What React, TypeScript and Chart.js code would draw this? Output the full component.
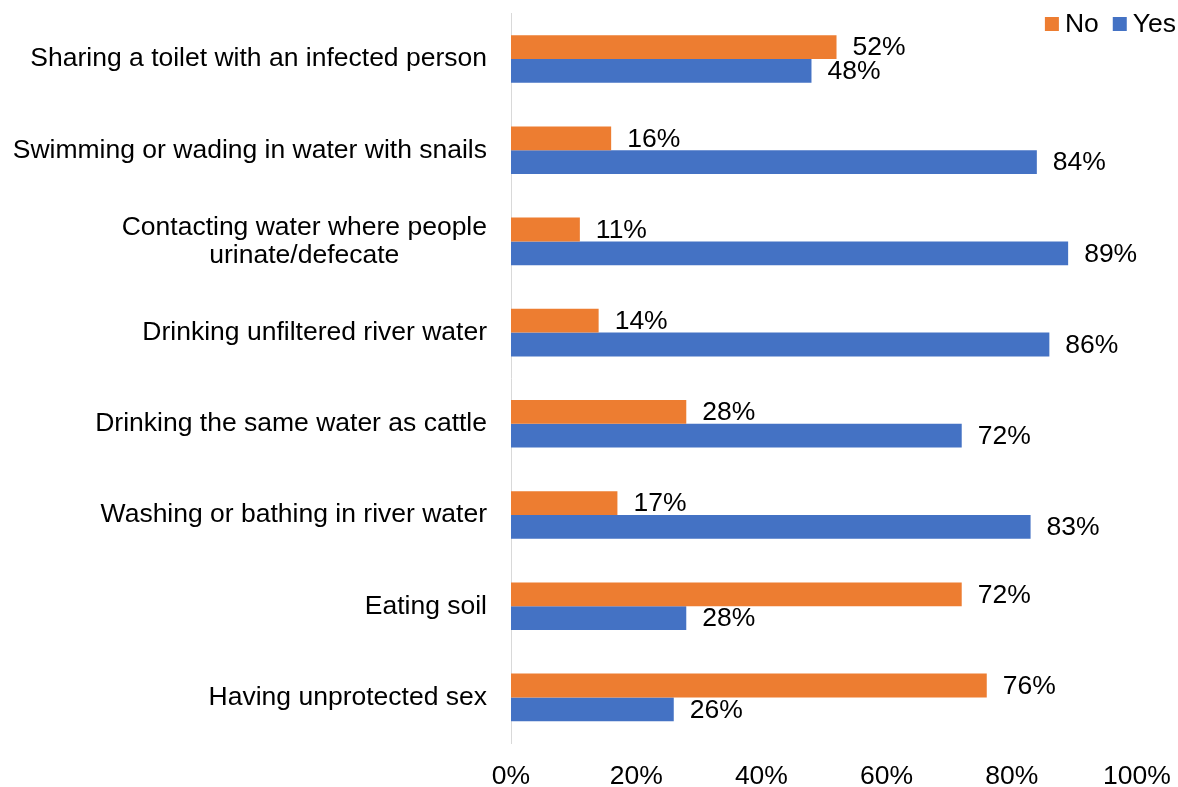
import React, { useEffect, useRef } from "react";
import { Chart, registerables } from "chart.js";

Chart.register(...registerables);

const categories: string[][] = [
  ["Sharing a toilet with an infected person"],
  ["Swimming or wading in water with snails"],
  ["Contacting water where people", "urinate/defecate"],
  ["Drinking unfiltered river water"],
  ["Drinking the same water as cattle"],
  ["Washing or bathing in river water"],
  ["Eating soil"],
  ["Having unprotected sex"],
];
const seriesNames = ["No", "Yes"];
const noValues = [52, 16, 11, 14, 28, 17, 72, 76];
const yesValues = [48, 84, 89, 86, 72, 83, 28, 26];
const xTicks = [0, 20, 40, 60, 80, 100];

const ORANGE = "#ED7D31";
const BLUE = "#4472C4";
const FONT_FAMILY = '"Liberation Sans", Arial, Helvetica, sans-serif';
const FONT_SIZE = 26.5;
const FONT = `${FONT_SIZE}px ${FONT_FAMILY}`;

const categoryLabelPlugin = {
  id: "categoryLabels",
  afterDraw(chart: any) {
    const ctx = chart.ctx;
    const yScale = chart.scales.y;
    const right = chart.chartArea.left - 24;
    ctx.save();
    ctx.font = FONT;
    ctx.fillStyle = "#000";
    ctx.textBaseline = "middle";
    ctx.textAlign = "center";
    const lineHeight = 28;
    (chart.data.labels as any[]).forEach((lab, i) => {
      const lines: string[] = Array.isArray(lab) ? lab : [String(lab)];
      const maxW = Math.max(...lines.map((l) => ctx.measureText(l).width));
      const cy = yScale.getPixelForValue(i);
      const cx = right - maxW / 2;
      lines.forEach((l, j) => {
        ctx.fillText(l, cx, cy + (j - (lines.length - 1) / 2) * lineHeight);
      });
    });
    ctx.restore();
  },
};

const valueLabelPlugin = {
  id: "valueLabels",
  afterDatasetsDraw(chart: any) {
    const ctx = chart.ctx;
    ctx.save();
    ctx.font = FONT;
    ctx.fillStyle = "#000";
    ctx.textBaseline = "middle";
    ctx.textAlign = "left";
    chart.data.datasets.forEach((ds: any, di: number) => {
      const meta = chart.getDatasetMeta(di);
      meta.data.forEach((el: any, i: number) => {
        ctx.fillText(`${ds.data[i]}%`, el.x + 16, el.y + 1);
      });
    });
    ctx.restore();
  },
};

const legendPlugin = {
  id: "customLegend",
  afterDraw(chart: any) {
    const ctx = chart.ctx;
    ctx.save();
    ctx.font = FONT;
    ctx.textBaseline = "middle";
    ctx.textAlign = "left";
    const box = 14;
    const gap = 6;
    const itemGap = 14;
    const cy = 24;
    let x = 1176;
    const ds = chart.data.datasets;
    for (let i = ds.length - 1; i >= 0; i--) {
      const w = ctx.measureText(ds[i].label).width;
      const tx = x - w;
      ctx.fillStyle = "#000";
      ctx.fillText(ds[i].label, tx, cy + 1);
      const bx = tx - gap - box;
      ctx.fillStyle = ds[i].backgroundColor;
      ctx.fillRect(bx, cy - box / 2, box, box);
      x = bx - itemGap;
    }
    ctx.restore();
  },
};

export default function App() {
  const ref = useRef<HTMLCanvasElement | null>(null);

  useEffect(() => {
    if (!ref.current) return;
    const chart = new Chart(ref.current, {
      type: "bar",
      data: {
        labels: categories as any,
        datasets: [
          {
            label: seriesNames[0],
            data: noValues,
            backgroundColor: ORANGE,
            borderWidth: 0,
            categoryPercentage: 0.522,
            barPercentage: 1,
          },
          {
            label: seriesNames[1],
            data: yesValues,
            backgroundColor: BLUE,
            borderWidth: 0,
            categoryPercentage: 0.522,
            barPercentage: 1,
          },
        ],
      },
      options: {
        indexAxis: "y",
        responsive: false,
        animation: false,
        devicePixelRatio: 1,
        layout: { padding: { top: 13.4, right: 41, bottom: 0, left: 0 } },
        plugins: {
          legend: { display: false },
          tooltip: { enabled: false },
        },
        scales: {
          y: {
            type: "category",
            ticks: { display: false },
            grid: { display: false },
            border: { display: true, color: "#D9D9D9", width: 1 },
            afterFit: (s: any) => {
              s.width = 511;
            },
          },
          x: {
            type: "linear",
            min: 0,
            max: 100,
            afterBuildTicks: (s: any) => {
              s.ticks = xTicks.map((v) => ({ value: v }));
            },
            ticks: {
              callback: (v: any) => `${v}%`,
              font: { family: FONT_FAMILY, size: FONT_SIZE },
              color: "#000",
              padding: 10,
              maxRotation: 0,
              autoSkip: false,
            },
            grid: { display: false },
            border: { display: false },
            afterFit: (s: any) => {
              s.height = 44;
              s.paddingLeft = 0;
              s.paddingRight = 0;
            },
          },
        },
      },
      plugins: [categoryLabelPlugin, valueLabelPlugin, legendPlugin],
    } as any);
    return () => chart.destroy();
  }, []);

  return (
    <div style={{ position: "absolute", left: 0, top: 0, width: 1178, height: 787, background: "#fff" }}>
      <canvas ref={ref} width={1178} height={787} style={{ display: "block" }} />
    </div>
  );
}
